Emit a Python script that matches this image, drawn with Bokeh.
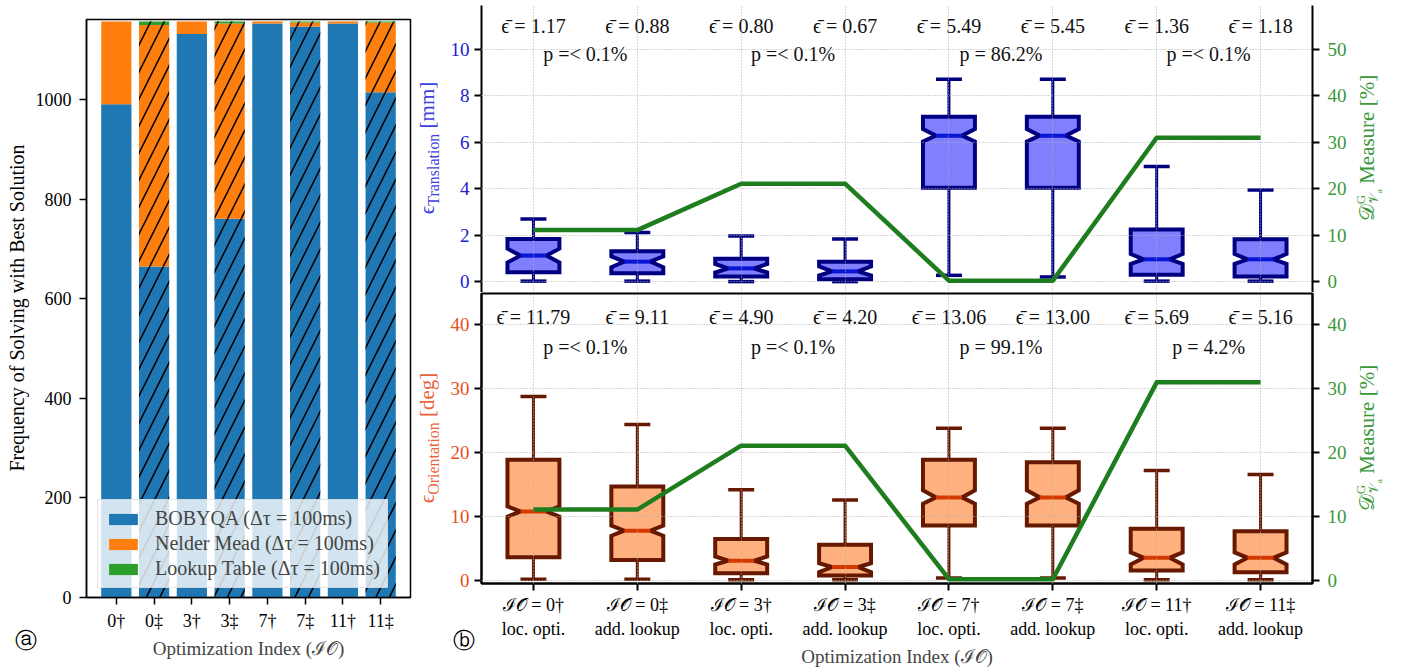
import numpy as np
from bokeh.plotting import figure
from bokeh.models import (Range1d, LinearAxis, FixedTicker, Legend,
                          LegendItem, ColumnDataSource, Div)
from bokeh.layouts import row, column
from bokeh.embed import file_html
from bokeh.resources import INLINE
from bokeh.core.properties import field, value

FONT = "Liberation Serif"
H = 668  # total height of every column in the layout

# ---------------- data: panel (a) ----------------
idx_labels = ["0†", "0‡", "3†", "3‡", "7†", "7‡", "11†", "11‡"]
bobyqa = [991, 665, 1132, 761, 1153, 1147, 1153, 1015]
nelder_mead = [166, 485, 25, 392, 4, 8, 4, 140]
lookup_table = [0, 7, 0, 4, 0, 2, 0, 2]
hatched = [False, True, False, True, False, True, False, True]
freq_ticks = [0, 200, 400, 600, 800, 1000]
legend_labels = ["BOBYQA (Δτ = 100ms)", "Nelder Mead (Δτ = 100ms)",
                 "Lookup Table (Δτ = 100ms)"]

# ---------------- data: panel (b) ----------------
box_labels = ["ℐ𝒪 = 0†\nloc. opti.", "ℐ𝒪 = 0‡\nadd. lookup",
              "ℐ𝒪 = 3†\nloc. opti.", "ℐ𝒪 = 3‡\nadd. lookup",
              "ℐ𝒪 = 7†\nloc. opti.", "ℐ𝒪 = 7‡\nadd. lookup",
              "ℐ𝒪 = 11†\nloc. opti.", "ℐ𝒪 = 11‡\nadd. lookup"]
positions = [1, 2, 3, 4, 5, 6, 7, 8]

trans_whislo = [0.02, 0.02, 0.00, 0.00, 0.27, 0.20, 0.02, 0.02]
trans_q1 = [0.40, 0.36, 0.22, 0.10, 4.04, 4.04, 0.29, 0.22]
trans_med = [1.12, 0.86, 0.57, 0.44, 6.29, 6.29, 0.96, 0.96]
trans_q3 = [1.84, 1.31, 0.98, 0.86, 7.11, 7.11, 2.25, 1.82]
trans_whishi = [2.70, 2.12, 1.97, 1.84, 8.72, 8.72, 4.96, 3.95]
trans_notch_lo = [0.82, 0.62, 0.39, 0.26, 6.04, 6.04, 0.76, 0.76]
trans_notch_hi = [1.42, 1.09, 0.76, 0.66, 6.58, 6.58, 1.19, 1.19]
trans_mean = ["1.17", "0.88", "0.80", "0.67", "5.49", "5.45", "1.36", "1.18"]
trans_p = ["< 0.1%", "< 0.1%", "86.2%", "< 0.1%"]
trans_ticks = [0, 2, 4, 6, 8, 10]

orient_whislo = [0.2, 0.2, 0.1, 0.1, 0.4, 0.4, 0.1, 0.1]
orient_q1 = [3.65, 3.2, 1.15, 0.8, 8.6, 8.6, 1.56, 1.3]
orient_med = [10.8, 7.8, 3.1, 2.1, 13.0, 13.0, 3.55, 3.55]
orient_q3 = [18.9, 14.7, 6.5, 5.6, 18.9, 18.5, 8.1, 7.7]
orient_whishi = [28.8, 24.4, 14.2, 12.6, 23.8, 23.8, 17.2, 16.6]
orient_notch_lo = [10.0, 7.0, 2.5, 1.3, 12.0, 12.0, 2.5, 2.5]
orient_notch_hi = [11.6, 8.6, 3.75, 2.7, 14.1, 14.1, 4.4, 4.4]
orient_mean = ["11.79", "9.11", "4.90", "4.20", "13.06", "13.00", "5.69", "5.16"]
orient_p = ["< 0.1%", "< 0.1%", "99.1%", "4.2%"]
orient_ticks = [0, 10, 20, 30, 40]

d_measure = [11.1, 11.1, 21.1, 21.1, 0.2, 0.2, 31.0, 31.0]
d_ticks_top = [0, 10, 20, 30, 40, 50]
d_ticks_bottom = [0, 10, 20, 30, 40]

BLUE, ORANGE, GREEN = "#1f77b4", "#ff7f0e", "#2ca02c"
LINE_GREEN = "#1e7d1e"
TICK_GREEN = "#3a973a"
T_COL, O_COL = "#4040e0", "#e8643c"


def style_axis(ax, color="black", size="19px", lw=2.0, standoff=5):
    ax.major_label_text_font = FONT
    ax.major_label_text_font_size = size
    ax.major_label_text_color = color
    ax.axis_line_width = lw
    ax.major_tick_line_width = lw
    ax.major_tick_out = 7
    ax.major_tick_in = 0
    ax.minor_tick_line_color = None
    ax.major_label_standoff = standoff
    ax.axis_label_text_font = FONT
    ax.axis_label_text_font_style = "normal"
    ax.axis_label_text_font_size = size


def html_item(x, y, content, size, color="black", rotate=True):
    tr = "translate(-50%,-50%) rotate(-90deg)" if rotate else "translate(-50%,-50%)"
    return (f'<div style="position:absolute;left:{x}px;top:{y}px;transform:{tr};'
            f'white-space:nowrap;font-size:{size};color:{color};line-height:1.1;'
            f'z-index:10;">{content}</div>')


def label_strip(width, items):
    html = (f'<div style="position:relative;width:{width}px;height:{H}px;'
            f'font-family:\'{FONT}\';overflow:visible;">' + "".join(items) + '</div>')
    return Div(text=html, width=width, height=H, margin=0,
               styles={"overflow": "visible", "z-index": "5"})


# ================= panel (a) =================
pa = figure(x_range=Range1d(-0.79, 7.79), y_range=Range1d(0, 1161),
            frame_width=324, frame_height=578,
            min_border_left=54, min_border_right=5, min_border_top=19,
            min_border_bottom=H - 597, output_backend="svg", toolbar_location=None)
pa.grid.visible = False
pa.outline_line_color = "black"
pa.outline_line_width = 1.5
pa.outline_line_alpha = 1

xs = list(range(len(idx_labels)))
b_top = list(np.array(bobyqa))
n_top = list(np.array(bobyqa) + np.array(nelder_mead))
l_top = list(np.array(n_top) + np.array(lookup_table))
src = ColumnDataSource(dict(x=xs, zero=[0] * 8, b_top=b_top, n_top=n_top, l_top=l_top,
                            hatch=["/" if h else " " for h in hatched]))
hatch_kw = dict(hatch_pattern=field("hatch"), hatch_color="black",
                hatch_weight=1.6, hatch_scale=27)
rb = pa.vbar(x="x", width=0.8, bottom="zero", top="b_top", source=src,
             fill_color=BLUE, line_color=None, **hatch_kw)
rn = pa.vbar(x="x", width=0.8, bottom="b_top", top="n_top", source=src,
             fill_color=ORANGE, line_color=None, **hatch_kw)
rl = pa.vbar(x="x", width=0.8, bottom="n_top", top="l_top", source=src,
             fill_color=GREEN, line_color=None, **hatch_kw)

pa.xaxis.ticker = FixedTicker(ticks=xs)
pa.xaxis.major_label_overrides = {i: lab for i, lab in enumerate(idx_labels)}
pa.yaxis.ticker = FixedTicker(ticks=freq_ticks)
style_axis(pa.xaxis, size="18px", lw=1.5, standoff=6)
style_axis(pa.yaxis, size="18px", lw=1.5, standoff=8)
pa.xaxis.axis_label = "Optimization Index (ℐ𝒪)"
pa.xaxis.axis_label_text_font_size = "19px"
pa.xaxis.axis_label_standoff = 4

legend = Legend(items=[LegendItem(label=legend_labels[0], renderers=[rb]),
                       LegendItem(label=legend_labels[1], renderers=[rn]),
                       LegendItem(label=legend_labels[2], renderers=[rl])],
                location=(11, 9), label_text_font=FONT, label_text_font_size="20px",
                glyph_width=36, glyph_height=14, label_height=22, spacing=2,
                padding=7, margin=0, label_standoff=14,
                background_fill_color="white", background_fill_alpha=0.8,
                border_line_color="#cccccc", border_line_width=1.5)
pa.add_layout(legend)

# left strip: y label of panel (a) and the panel tag
sa = label_strip(32, [
    html_item(16.5, 308, "Frequency of Solving with Best Solution", "20px"),
    html_item(26, 641, "ⓐ", "22px", rotate=False),
])

# ================= panel (b) =================
BOX_W = 0.5
CAP_W = 0.25


def draw_boxes(p, wlo, q1, med, q3, whi, nlo, nhi, fill, edge, med_col):
    xs_poly, ys_poly = [], []
    for i, x in enumerate(positions):
        l, r = x - BOX_W / 2, x + BOX_W / 2
        cl, cr = x - CAP_W / 2, x + CAP_W / 2
        xs_poly.append([l, r, r, cr, r, r, l, l, cl, l])
        ys_poly.append([q1[i], q1[i], nlo[i], med[i], nhi[i], q3[i], q3[i], nhi[i], med[i], nlo[i]])
    cap_l = [x - CAP_W / 2 for x in positions]
    cap_r = [x + CAP_W / 2 for x in positions]
    p.segment(x0=positions, y0=q3, x1=positions, y1=whi, line_color=edge, line_width=3)
    p.segment(x0=positions, y0=q1, x1=positions, y1=wlo, line_color=edge, line_width=3)
    p.segment(x0=cap_l, y0=whi, x1=cap_r, y1=whi, line_color=edge, line_width=3.5)
    p.segment(x0=cap_l, y0=wlo, x1=cap_r, y1=wlo, line_color=edge, line_width=3.5)
    p.patches(xs=xs_poly, ys=ys_poly, fill_color=fill, line_color=edge,
              line_width=4, line_join="miter")
    p.segment(x0=cap_l, y0=med, x1=cap_r, y1=med, line_color=med_col, line_width=4)


def make_panel(yr, ticks, right_range, right_ticks, frame_h, top_border, bottom_border,
               wlo, q1, med, q3, whi, nlo, nhi, fill, edge, med_col,
               means, pvals, y_mean, y_p, tick_col, bottom_axis):
    p = figure(x_range=Range1d(0.5, 8.5), y_range=Range1d(*yr),
               frame_width=831, frame_height=frame_h,
               min_border_left=31, min_border_right=40, min_border_top=top_border,
               min_border_bottom=bottom_border, output_backend="svg",
               toolbar_location=None,
               x_axis_location="below" if bottom_axis else None)
    p.extra_y_ranges = {"d": Range1d(*right_range)}
    rax = LinearAxis(y_range_name="d", ticker=FixedTicker(ticks=right_ticks))
    p.add_layout(rax, "right")
    lax = p.left[0]
    lax.ticker = FixedTicker(ticks=ticks)
    style_axis(lax, color=tick_col, standoff=5)
    style_axis(rax, color=TICK_GREEN, standoff=8)

    p.xgrid.ticker = FixedTicker(ticks=positions)
    p.ygrid.ticker = FixedTicker(ticks=ticks)
    for g in (p.xgrid, p.ygrid):
        g.grid_line_color = "#b0b0b0"
        g.grid_line_dash = "1 2"
        g.grid_line_width = 1
        g.level = "annotation"

    if bottom_axis:
        p.outline_line_color = "black"
        p.outline_line_width = 2
        p.outline_line_alpha = 1
        p.xaxis.ticker = FixedTicker(ticks=positions)
        p.xaxis.major_label_overrides = {x: lab for x, lab in zip(positions, box_labels)}
        style_axis(p.xaxis, size="18px", standoff=4)
        p.xaxis.axis_label = "Optimization Index (ℐ𝒪)"
        p.xaxis.axis_label_text_font_size = "19px"
        p.xaxis.axis_label_standoff = 4
    else:
        p.outline_line_color = None

    draw_boxes(p, wlo, q1, med, q3, whi, nlo, nhi, fill, edge, med_col)

    gl = p.line(x=positions, y=d_measure, y_range_name="d", line_color=LINE_GREEN,
                line_width=4.5, line_join="round")
    gl.level = "overlay"

    tsrc = ColumnDataSource(dict(x=positions, y=[y_mean] * 8,
                                 t=["ϵ̄ = " + m for m in means]))
    p.text(x="x", y="y", text="t", source=tsrc, text_align="center",
           text_baseline="middle", text_font=value(FONT), text_font_size="20px",
           text_color="#111111")
    pmid = [1.5, 3.5, 5.5, 7.5]
    psrc = ColumnDataSource(dict(x=pmid, y=[y_p] * 4,
                                 t=["p =" + v if v.startswith("<") else "p = " + v
                                    for v in pvals]))
    p.text(x="x", y="y", text="t", source=psrc, text_align="center",
           text_baseline="middle", text_font=value(FONT), text_font_size="20px",
           text_color="#111111")
    return p


pt = make_panel((-0.47, 11.9), trans_ticks, (-2.35, 59.5), d_ticks_top,
                287, 5, 0,
                trans_whislo, trans_q1, trans_med, trans_q3, trans_whishi,
                trans_notch_lo, trans_notch_hi, "#8080ff", "#000080", "#0a14d4",
                trans_mean, trans_p, 11.03, 9.83, "#2020d0", False)

pb = make_panel((-0.47, 44.9), orient_ticks, (-0.47, 44.9), d_ticks_bottom,
                290, 1, H - 583,
                orient_whislo, orient_q1, orient_med, orient_q3, orient_whishi,
                orient_notch_lo, orient_notch_hi, "#ffb07f", "#661800", "#d43a00",
                orient_mean, orient_p, 41.3, 36.6, "#e2521c", True)

SUB = '<sub style="font-size:76%;vertical-align:-0.32em;">{}</sub>'
sb = label_strip(32, [
    html_item(14, 148, "ϵ" + SUB.format("Translation") + "&nbsp;[mm]", "21px", T_COL),
    html_item(14, 438, "ϵ" + SUB.format("Orientation") + "&nbsp;[deg]", "21px", O_COL),
    html_item(49, 641, "ⓑ", "22px", rotate=False),
])

D_LABEL = ('𝒟<span style="display:inline-block;vertical-align:middle;font-size:62%;'
           'line-height:1.0;text-align:left;"><span style="display:block;">G</span>'
           '<span style="display:block;">𝒱<sub style="font-size:70%;">a</sub></span></span>'
           '&nbsp;Measure&nbsp;[%]')
sc = label_strip(41, [
    html_item(17, 148, D_LABEL, "21px", TICK_GREEN),
    html_item(17, 438, D_LABEL, "21px", TICK_GREEN),
])

layout = row(sa, pa, sb, column(pt, pb, spacing=0), sc, spacing=0)
open("out.html", "w").write(file_html(layout, INLINE))
